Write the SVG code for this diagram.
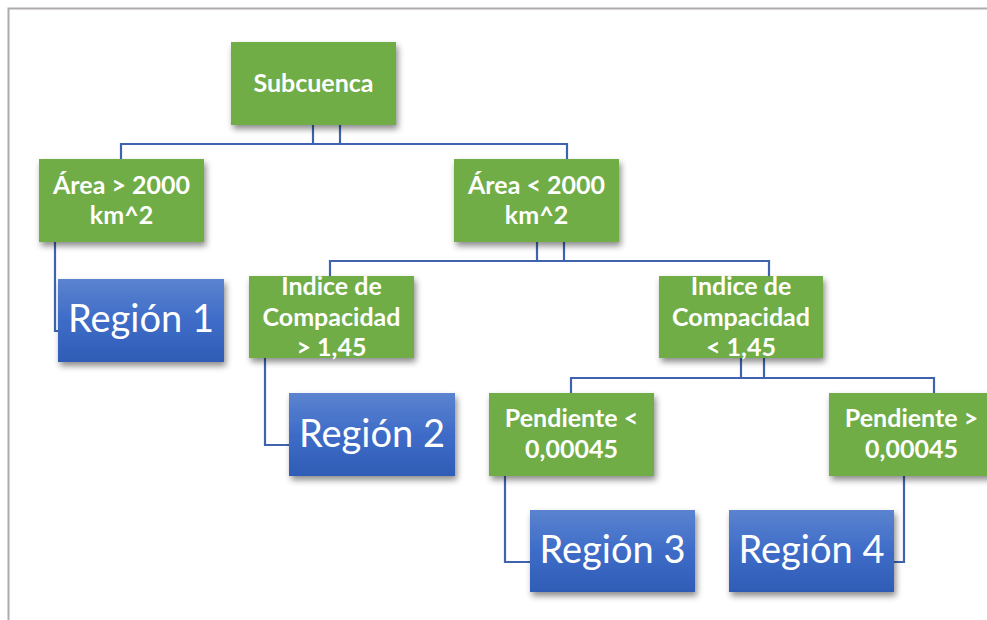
<svg xmlns="http://www.w3.org/2000/svg" width="987" height="620" viewBox="0 0 987 620">
<defs>
<linearGradient id="blue" x1="0" y1="0" x2="0" y2="1">
<stop offset="0" stop-color="#5B83CF"/>
<stop offset="0.5" stop-color="#3E6CC8"/>
<stop offset="1" stop-color="#2F5CB5"/>
</linearGradient>
<filter id="sh" x="-10%" y="-10%" width="125%" height="130%">
<feDropShadow dx="2" dy="4" stdDeviation="3" flood-color="#000" flood-opacity="0.45"/>
</filter>
<style>
.g{fill:#70AD47;filter:url(#sh)}
.b{fill:url(#blue);filter:url(#sh)}
.gt{font-family:Lato,"Open Sans","Liberation Sans",sans-serif;font-weight:bold;font-size:25px;fill:#fff;text-anchor:middle}
.bt{font-family:Lato,"Open Sans","Liberation Sans",sans-serif;font-size:38px;fill:#fff;text-anchor:middle}
.c{fill:none;stroke:#3F63AE;stroke-width:2.2}
</style>
</defs>
<rect width="987" height="620" fill="#fff"/>
<path d="M8.5 620 V8.5 H987" fill="none" stroke="#AFAAAD" stroke-width="2"/>
<g id="connectors">
<path class="c" d="M313 125 V144 M340 125 V144 M121 159 V144 H567 V159"/>
<path class="c" d="M537 242 V261 M564 242 V261 M330 276 V261 H769 V276"/>
<path class="c" d="M741 358 V378 M764 358 V378 M571 393 V378 H934 V393"/>
<path class="c" d="M55 242 V331 H58"/>
<path class="c" d="M265 358 V445 H289"/>
<path class="c" d="M505 476 V562 H530"/>
<path class="c" d="M904 476 V562 H894"/>
</g>
<g id="subcuenca"><rect class="g" x="231" y="42" width="165" height="83"/><text class="gt" x="313.5" y="92">Subcuenca</text></g>
<g id="area-mayor"><rect class="g" x="39" y="159" width="165" height="83"/><text class="gt" x="121.5" y="194">Área &gt; 2000</text><text class="gt" x="121.5" y="224">km^2</text></g>
<g id="area-menor"><rect class="g" x="454" y="159" width="165" height="83"/><text class="gt" x="536.5" y="194">Área &lt; 2000</text><text class="gt" x="536.5" y="224">km^2</text></g>
<g id="region1"><rect class="b" x="58" y="279" width="166" height="83"/><text class="bt" x="141" y="332">Región 1</text></g>
<g id="indice-mayor"><rect class="g" x="249" y="276" width="165" height="82"/><text class="gt" x="331.5" y="295">Índice de</text><text class="gt" x="331.5" y="326">Compacidad</text><text class="gt" x="331.5" y="356">&gt; 1,45</text></g>
<g id="indice-menor"><rect class="g" x="659" y="276" width="164" height="82"/><text class="gt" x="741" y="295">Índice de</text><text class="gt" x="741" y="326">Compacidad</text><text class="gt" x="741" y="356">&lt; 1,45</text></g>
<g id="region2"><rect class="b" x="289" y="393" width="166" height="83"/><text class="bt" x="372" y="447">Región 2</text></g>
<g id="pendiente-menor"><rect class="g" x="489" y="393" width="165" height="83"/><text class="gt" x="571.5" y="427">Pendiente &lt;</text><text class="gt" x="571.5" y="458">0,00045</text></g>
<g id="pendiente-mayor"><rect class="g" x="829" y="393" width="165" height="83"/><text class="gt" x="911.5" y="427">Pendiente &gt;</text><text class="gt" x="911.5" y="458">0,00045</text></g>
<g id="region3"><rect class="b" x="530" y="510" width="165" height="82"/><text class="bt" x="612.5" y="563">Región 3</text></g>
<g id="region4"><rect class="b" x="729" y="510" width="165" height="82"/><text class="bt" x="811.5" y="563">Región 4</text></g>
</svg>
